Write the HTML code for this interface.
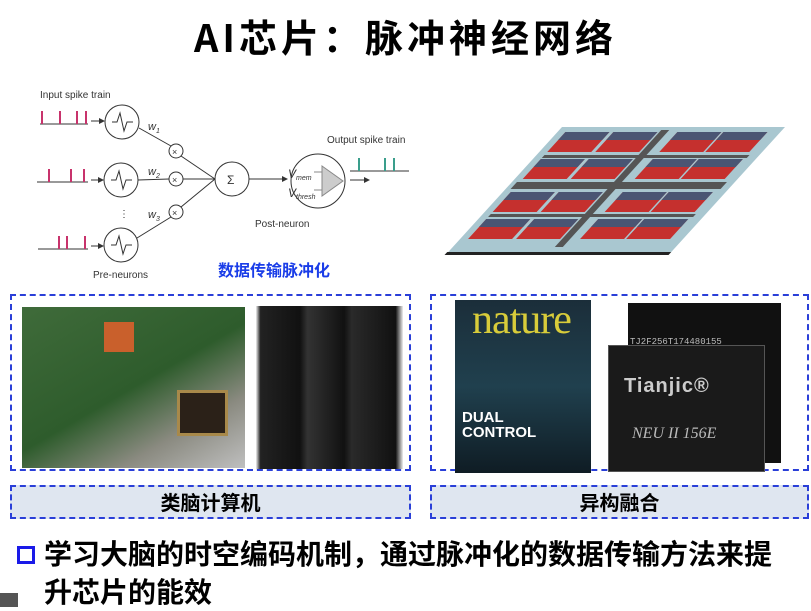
<!DOCTYPE html>
<html><head><meta charset="utf-8"><style>
body{margin:0;width:811px;height:607px;background:#fff;position:relative;overflow:hidden;font-family:"Liberation Sans","Noto Sans CJK SC",sans-serif}
.abs{position:absolute}
.title{left:0;width:811px;top:8px;text-align:center;font-size:38px;font-weight:bold;font-family:"Noto Sans CJK SC",sans-serif;letter-spacing:4px}
.box{border:2px dashed #2a3fd8;box-sizing:border-box}
.lab{background:#dfe6f0;font-size:20px;font-weight:bold;text-align:center;line-height:30px;font-family:"Noto Sans CJK SC",sans-serif}
.bul{font-size:28px;font-weight:bold;font-family:"Noto Sans CJK SC",sans-serif;line-height:38px;white-space:nowrap}
</style></head><body>
<div class="abs title">AI芯片：脉冲神经网络</div>

<svg class="abs" style="left:0;top:80px" width="430" height="210" viewBox="0 80 430 210" font-family="Liberation Sans" font-size="10" fill="#333">
<text x="40" y="98">Input spike train</text>
<g stroke="#333" stroke-width="1" fill="none">
<line x1="40" y1="124" x2="88" y2="124"/><line x1="37" y1="182" x2="88" y2="182"/><line x1="38" y1="249" x2="88" y2="249"/>
<line x1="350" y1="171" x2="409" y2="171"/>
<circle cx="122" cy="122" r="17"/><circle cx="121" cy="180" r="17"/><circle cx="121" cy="245" r="17"/>
<circle cx="176" cy="151" r="7"/><circle cx="176" cy="179" r="7"/><circle cx="176" cy="212" r="7"/>
<circle cx="232" cy="179" r="17"/><circle cx="318" cy="181" r="27"/>
<line x1="139" y1="128" x2="171" y2="146"/><line x1="138" y1="180" x2="169" y2="179"/><line x1="137" y1="238" x2="171" y2="217"/>
<line x1="181" y1="156" x2="215" y2="179"/><line x1="183" y1="179" x2="215" y2="179"/><line x1="181" y1="207" x2="215" y2="179"/>
<line x1="249" y1="179" x2="282" y2="179"/><line x1="350" y1="180" x2="365" y2="180"/>
<line x1="91" y1="121" x2="100" y2="121"/><line x1="91" y1="180" x2="99" y2="180"/><line x1="91" y1="246" x2="99" y2="246"/>
<path d="M112 122h5l3 -9l4 18l3 -9h6"/><path d="M111 180h5l3 -9l4 18l3 -9h6"/><path d="M111 245h5l3 -9l4 18l3 -9h6"/>
</g>
<g fill="#333"><path d="M105 121l-6 -3v6z"/><path d="M104 180l-6 -3v6z"/><path d="M104 246l-6 -3v6z"/><path d="M288 179l-6 -3v6z"/><path d="M370 180l-6 -3v6z"/></g>
<g stroke="#c8336c" stroke-width="2"><path d="M42 124v-13M60 124v-13M77 124v-13M86 124v-13M49 182v-13M71 182v-13M84 182v-13M59 249v-13M67 249v-13M85 249v-13"/></g>
<g stroke="#3a9e8c" stroke-width="2"><path d="M359 171v-13M385 171v-13M394 171v-13"/></g>
<path d="M322 166l21 15l-21 15z" fill="#ccc" stroke="#888"/>
<path d="M314 172h8M314 190h8" stroke="#888"/>
<text x="148" y="130" font-style="italic" font-size="11">w<tspan font-size="7" dy="3">1</tspan></text>
<text x="148" y="175" font-style="italic" font-size="11">w<tspan font-size="7" dy="3">2</tspan></text>
<text x="148" y="218" font-style="italic" font-size="11">w<tspan font-size="7" dy="3">3</tspan></text>
<text x="172" y="155" font-size="9">×</text><text x="172" y="183" font-size="9">×</text><text x="172" y="216" font-size="9">×</text>
<text x="227" y="184" font-size="12">Σ</text>
<text x="288" y="178" font-style="italic" font-size="12">V<tspan font-size="7" dy="2">mem</tspan></text>
<text x="288" y="197" font-style="italic" font-size="12">V<tspan font-size="7" dy="2">thresh</tspan></text>
<text x="119" y="217" font-size="10">⋮</text>
<text x="327" y="143">Output spike train</text>
<text x="255" y="227">Post-neuron</text>
<text x="93" y="278">Pre-neurons</text>
<text x="218" y="276" font-size="16" font-weight="bold" fill="#1a3de8" font-family="Noto Sans CJK SC">数据传输脉冲化</text>
</svg>

<svg class="abs" style="left:440px;top:110px" width="350" height="150">
<g transform="translate(122,17) matrix(1,0,-0.91,1,0,0)">
<rect x="0" y="0" width="223" height="125" fill="#a9c7d0"/>
<rect x="-1" y="125" width="224" height="3" fill="#222"/>
<g id="t">
<rect x="8" y="5" width="44" height="20" fill="#c5302e"/><rect x="8" y="5" width="44" height="8" fill="#4a5573"/>
</g>
<use href="#t" x="48"/><use href="#t" x="112"/><use href="#t" x="158"/>
<use href="#t" y="27"/><use href="#t" x="48" y="27"/><use href="#t" x="112" y="27"/><use href="#t" x="158" y="27"/>
<use href="#t" y="60"/><use href="#t" x="48" y="60"/><use href="#t" x="112" y="60"/><use href="#t" x="158" y="60"/>
<use href="#t" y="87"/><use href="#t" x="48" y="87"/><use href="#t" x="112" y="87"/><use href="#t" x="158" y="87"/>
<rect x="102" y="3" width="8" height="117" fill="#555"/>
<rect x="5" y="55" width="210" height="7" fill="#555"/>
<rect x="8" y="28" width="205" height="3" fill="#555"/><rect x="8" y="87" width="205" height="3" fill="#555"/>
</g>
</svg>

<div class="abs box" style="left:10px;top:294px;width:401px;height:177px"></div>
<div class="abs box" style="left:430px;top:294px;width:379px;height:177px"></div>
<div class="abs" style="left:22px;top:307px;width:223px;height:161px;background:linear-gradient(150deg,#3f6b3a,#2e5c2c 50%,#8a8a80 75%,#bfbfbf)"></div>
<div class="abs" style="left:104px;top:322px;width:30px;height:30px;background:#c9602c"></div>
<div class="abs" style="left:177px;top:390px;width:45px;height:40px;background:#2b2118;border:3px solid #a8894a"></div>
<div class="abs" style="left:256px;top:306px;width:147px;height:163px;background:linear-gradient(90deg,#eee 0,#222 3%,#111 30%,#333 35%,#111 60%,#2a2a2a 65%,#111 95%,#eee)"></div>
<div class="abs" style="left:455px;top:300px;width:136px;height:173px;background:linear-gradient(180deg,#1b2e3a,#20404e 50%,#0f1c24)"></div>
<div class="abs" style="left:472px;top:296px;font-family:'Liberation Serif',serif;font-size:42px;color:#d8cc3a;letter-spacing:-1px">nature</div>
<div class="abs" style="left:462px;top:410px;font-size:15px;font-weight:bold;color:#fff;line-height:15px">DUAL<br>CONTROL</div>
<div class="abs" style="left:628px;top:303px;width:153px;height:160px;background:#111"></div>
<div class="abs" style="left:608px;top:345px;width:155px;height:125px;background:#1a1a1a;border:1px solid #555"></div>
<div class="abs" style="left:630px;top:337px;font-size:9px;color:#bbb;font-family:'Liberation Mono'">TJ2F256T174480155</div>
<div class="abs" style="left:624px;top:375px;font-size:20px;font-weight:bold;color:#ccc;letter-spacing:1px">Tianjic®</div>
<div class="abs" style="left:632px;top:425px;font-size:16px;font-style:italic;color:#bbb;font-family:'Liberation Serif'">NEU II 156E</div>

<div class="abs box lab" style="left:10px;top:485px;width:401px;height:34px">类脑计算机</div>
<div class="abs box lab" style="left:430px;top:485px;width:379px;height:34px">异构融合</div>

<div class="abs" style="left:17px;top:546px;width:12px;height:12px;border:3px solid #1a1ae8"></div>
<div class="abs bul" style="left:44px;top:534px">学习大脑的时空编码机制，通过脉冲化的数据传输方法来提</div>
<div class="abs bul" style="left:44px;top:572px">升芯片的能效</div>
<div class="abs" style="left:0;top:593px;width:18px;height:14px;background:#555"></div>
</body></html>
